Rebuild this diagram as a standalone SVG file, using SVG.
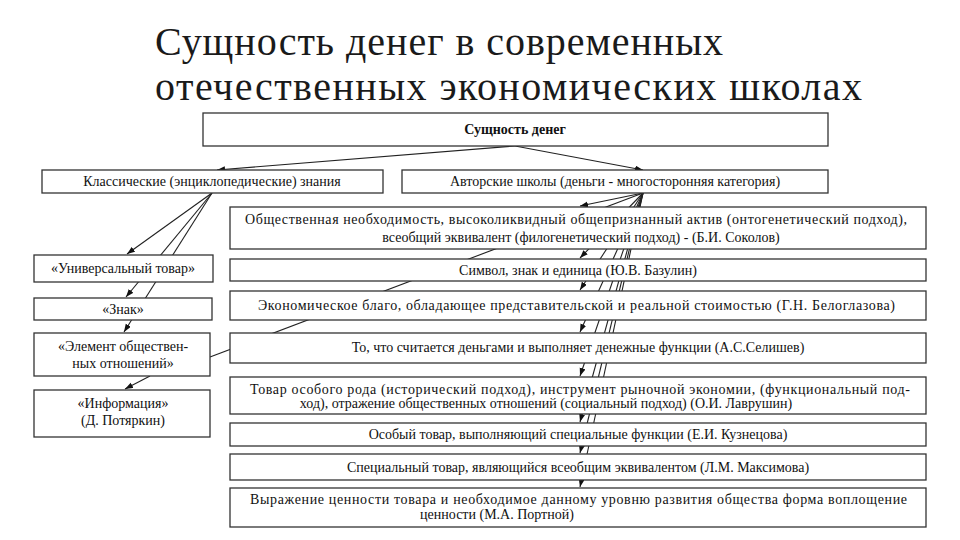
<svg xmlns="http://www.w3.org/2000/svg" width="960" height="540" viewBox="0 0 960 540">
<defs>
<marker id="ah" markerUnits="userSpaceOnUse" markerWidth="9" markerHeight="7" refX="8" refY="3" orient="auto"><path d="M0,0 L8,3 L0,6 z" fill="#111"/></marker>
<style>
text{font-family:'Liberation Serif','DejaVu Serif','Noto Serif',serif;fill:#111}
.title{font-size:40px;fill:#1a1a1a}
.b{fill:#fff;stroke:#333;stroke-width:1.3}
.s{font-size:14px}
.l{font-size:14px}
.c{stroke:#222;stroke-width:1.1;fill:none}
.a{marker-end:url(#ah)}
</style>
</defs>
<rect width="960" height="540" fill="#fff"/>
<text class="title" font-family="Liberation Serif, DejaVu Serif, serif" x="155" y="55" textLength="568">Сущность денег в современных</text>
<text class="title" font-family="Liberation Serif, DejaVu Serif, serif" x="155" y="100" textLength="707">отечественных экономических школах</text>

<g id="connectors">
<path class="c a" d="M515,146 L217,170"/>
<path class="c a" d="M515,146 L643,170"/>
<path class="c a" d="M212,193 L127,254"/>
<path class="c a" d="M212,193 L126,297"/>
<path class="c a" d="M212,193 L124,332"/>
<path class="c a" d="M150,376 L125,389"/>
<path class="c" d="M643,193 L210,357"/>
<path class="c a" d="M643,193 L580,206"/>
<path class="c a" d="M643,193 L580,258"/>
<path class="c a" d="M643,193 L580,290"/>
<path class="c a" d="M643,193 L580,332"/>
<path class="c a" d="M643,193 L580,376"/>
<path class="c a" d="M643,193 L580,422"/>
<path class="c a" d="M643,193 L580,453"/>
<path class="c a" d="M643,193 L580,487"/>
</g>

<g id="root"><rect class="b" x="203" y="113" width="625" height="33"/><text class="s" x="515" y="134" text-anchor="middle" font-weight="bold">Сущность денег</text></g>
<g id="classic"><rect class="b" x="42" y="170" width="341" height="23"/><text class="s" x="212" y="186" text-anchor="middle">Классические (энциклопедические) знания</text></g>
<g id="authors"><rect class="b" x="402" y="170" width="426" height="23"/><text class="s" x="615" y="186" text-anchor="middle">Авторские школы (деньги - многосторонняя категория)</text></g>

<g id="universal"><rect class="b" x="34" y="255" width="179" height="27"/><text class="l" x="123" y="273" text-anchor="middle">«Универсальный товар»</text></g>
<g id="sign"><rect class="b" x="34" y="298" width="178" height="22"/><text class="l" x="123" y="314" text-anchor="middle">«Знак»</text></g>
<g id="element"><rect class="b" x="34" y="333" width="176" height="43"/><text class="l" x="123" y="351" text-anchor="middle">«Элемент обществен-</text><text class="l" x="123" y="368" text-anchor="middle">ных отношений»</text></g>
<g id="info"><rect class="b" x="34" y="390" width="176" height="47"/><text class="l" x="123" y="408" text-anchor="middle">«Информация»</text><text class="l" x="123" y="425" text-anchor="middle">(Д. Потяркин)</text></g>

<g id="sokolov"><rect class="b" x="230" y="207" width="696" height="42"/><text class="s" x="245" y="224" textLength="662">Общественная необходимость, высоколиквидный общепризнанный актив (онтогенетический подход),</text><text class="s" x="581" y="242" text-anchor="middle">всеобщий эквивалент (филогенетический подход) - (Б.И. Соколов)</text></g>
<g id="bazulin"><rect class="b" x="230" y="259" width="696" height="22"/><text class="s" x="578" y="275" text-anchor="middle">Символ, знак и единица (Ю.В. Базулин)</text></g>
<g id="beloglazova"><rect class="b" x="230" y="291" width="696" height="29"/><text class="s" x="258" y="310" textLength="637">Экономическое благо, обладающее представительской и реальной стоимостью (Г.Н. Белоглазова)</text></g>
<g id="selishev"><rect class="b" x="230" y="333" width="696" height="30"/><text class="s" x="578" y="352" text-anchor="middle">То, что считается деньгами и выполняет денежные функции (А.С.Селишев)</text></g>
<g id="lavrushin"><rect class="b" x="230" y="377" width="696" height="37"/><text class="s" x="250" y="394" textLength="660">Товар особого рода (исторический подход), инструмент рыночной экономии, (функциональный под-</text><text class="s" x="546" y="408" text-anchor="middle">ход), отражение общественных отношений (социальный подход) (О.И. Лаврушин)</text></g>
<g id="kuznetsova"><rect class="b" x="230" y="423" width="696" height="23"/><text class="s" x="578" y="439" text-anchor="middle">Особый товар, выполняющий специальные функции (Е.И. Кузнецова)</text></g>
<g id="maksimova"><rect class="b" x="230" y="454" width="696" height="26"/><text class="s" x="578" y="472" text-anchor="middle">Специальный товар, являющийся всеобщим эквивалентом (Л.М. Максимова)</text></g>
<g id="portnoy"><rect class="b" x="230" y="488" width="696" height="39"/><text class="s" x="250" y="504" textLength="657">Выражение ценности товара и необходимое данному уровню развития общества форма воплощение</text><text class="s" x="497" y="519" text-anchor="middle">ценности (М.А. Портной)</text></g>
</svg>
